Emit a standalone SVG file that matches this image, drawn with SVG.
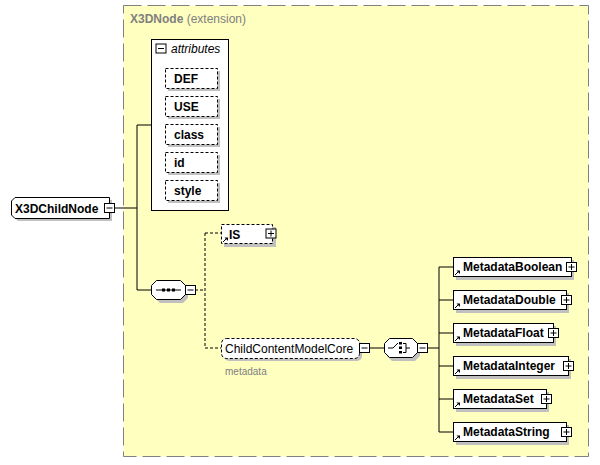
<svg xmlns="http://www.w3.org/2000/svg" width="600" height="465" viewBox="0 0 600 465">
<defs>
<style>
.bx{fill:#fff;stroke:#000;stroke-width:1}
.dsh{stroke-dasharray:3,2}
.sh{fill:#c0c0c0;stroke:none}
.lb{font-family:"Liberation Sans",Arial,sans-serif;font-size:12px;font-weight:bold;fill:#000}
.ln{stroke:#000;stroke-width:1;fill:none}
.ic{stroke:#000;stroke-width:1;fill:none}
</style>
<g id="minus"><rect x="-5" y="-4.5" width="10" height="9" class="bx"/><path d="M-3,0H3" class="ic"/></g>
<g id="plus"><rect x="-5" y="-4.5" width="10" height="9" class="bx"/><path d="M-3,0H3M0,-3V3" class="ic"/></g>
<g id="ref"><path d="M0,5L4,1" class="ic"/><path d="M1.5,0.5H5V4Z" fill="#000"/></g>
</defs>
<g id="extension">
<rect x="123.5" y="5.5" width="465" height="451" fill="#ffffc0" stroke="#808080" stroke-dasharray="18,6"/>
<text x="130" y="23" class="lb" style="fill:#808080">X3DNode<tspan font-weight="normal"> (extension)</tspan></text>
</g>
<g id="connectors">
<path class="ln" d="M114,208H137M137,125V290M137,125H151M137,290H151"/>
<path class="ln dsh" d="M195,290H205M205,233V348M205,233H221M205,348H221"/>
<path class="ln" d="M370,348H384M428,348H439M439,267V432M439,267H453M439,300H453M439,333H453M439,366H453M439,399H453M439,432H453"/>
</g>
<g id="X3DChildNode">
<polygon points="18,200 112,200 112,221 18,221 14,217 14,204" class="sh"/>
<polygon points="15,197.5 109.5,197.5 109.5,218.5 15,218.5 11.5,215 11.5,201" class="bx"/>
<text x="15" y="213" class="lb">X3DChildNode</text>
<use href="#minus" x="109.5" y="208"/>
</g>
<g id="attributes">
<rect x="151.5" y="39.5" width="77" height="171" class="bx"/>
<use href="#minus" x="161" y="48.5"/>
<text x="171" y="53" class="lb" font-style="italic" style="font-weight:normal">attributes</text>
</g>
<g id="attr-DEF"><rect x="168" y="71" width="52" height="20" class="sh"/><rect x="165.5" y="68.5" width="52" height="20" class="bx dsh"/><text x="174" y="83" class="lb">DEF</text></g>
<g id="attr-USE"><rect x="168" y="99" width="52" height="20" class="sh"/><rect x="165.5" y="96.5" width="52" height="20" class="bx dsh"/><text x="174" y="111" class="lb">USE</text></g>
<g id="attr-class"><rect x="168" y="127" width="52" height="20" class="sh"/><rect x="165.5" y="124.5" width="52" height="20" class="bx dsh"/><text x="174" y="139" class="lb">class</text></g>
<g id="attr-id"><rect x="168" y="155" width="52" height="20" class="sh"/><rect x="165.5" y="152.5" width="52" height="20" class="bx dsh"/><text x="174" y="167" class="lb">id</text></g>
<g id="attr-style"><rect x="168" y="183" width="52" height="20" class="sh"/><rect x="165.5" y="180.5" width="52" height="20" class="bx dsh"/><text x="174" y="195" class="lb">style</text></g>
<g id="sequence">
<polygon points="160,283 183,283 188,288 188,298 183,303 160,303 155,298 155,288" class="sh"/>
<polygon points="156.5,280.5 180.5,280.5 185.5,285.5 185.5,294.5 180.5,299.5 156.5,299.5 151.5,294.5 151.5,285.5" class="bx"/>
<path d="M156,290H181" class="ic"/>
<rect x="162" y="288.5" width="3" height="3" fill="#000"/>
<rect x="167" y="288.5" width="3" height="3" fill="#000"/>
<rect x="172" y="288.5" width="3" height="3" fill="#000"/>
<use href="#minus" x="190.5" y="290"/>
</g>
<g id="IS">
<rect x="224" y="227" width="52" height="20" class="sh"/>
<rect x="221.5" y="224.5" width="51" height="19" class="bx dsh"/>
<use href="#ref" x="223" y="237"/>
<text x="229" y="239" class="lb">IS</text>
<use href="#plus" x="271" y="233.5"/>
</g>
<g id="ChildContentModelCore">
<rect x="224" y="341" width="138" height="20" rx="5" class="sh"/>
<rect x="221.5" y="338.5" width="138" height="20" rx="5" class="bx dsh"/>
<text x="225" y="353" class="lb" style="font-weight:normal">ChildContentModelCore</text>
<use href="#minus" x="364.5" y="348"/>
<text x="225" y="375" font-family="Liberation Sans, Arial, sans-serif" font-size="10" fill="#808080">metadata</text>
</g>
<g id="choice">
<polygon points="392,341 415,341 420,346 420,356 415,361 392,361 387,356 387,346" class="sh"/>
<polygon points="389.5,338.5 412.5,338.5 417.5,343.5 417.5,352.5 412.5,357.5 389.5,357.5 384.5,352.5 384.5,343.5" class="bx"/>
<path d="M388,348H393L398,343" class="ic"/>
<rect x="399" y="342" width="3" height="2.5" fill="#000"/>
<rect x="399" y="346.5" width="3" height="2.5" fill="#000"/>
<rect x="399" y="351" width="3" height="2.5" fill="#000"/>
<path d="M403,343.5H406V352.5H403M406,348H410" class="ic"/>
<use href="#minus" x="422.5" y="348"/>
</g>
<g id="MetadataBoolean">
<rect x="456" y="260" width="118" height="20" class="sh"/>
<rect x="453.5" y="257.5" width="118" height="19" class="bx"/>
<use href="#ref" x="455" y="270"/>
<text x="463" y="271" class="lb">MetadataBoolean</text>
<use href="#plus" x="571.5" y="267"/>
</g>
<g id="MetadataDouble">
<rect x="456" y="293" width="113" height="20" class="sh"/>
<rect x="453.5" y="290.5" width="113" height="19" class="bx"/>
<use href="#ref" x="455" y="303"/>
<text x="463" y="304" class="lb">MetadataDouble</text>
<use href="#plus" x="566.5" y="300"/>
</g>
<g id="MetadataFloat">
<rect x="456" y="326" width="100" height="20" class="sh"/>
<rect x="453.5" y="323.5" width="100" height="19" class="bx"/>
<use href="#ref" x="455" y="336"/>
<text x="463" y="337" class="lb">MetadataFloat</text>
<use href="#plus" x="553.5" y="333"/>
</g>
<g id="MetadataInteger">
<rect x="456" y="359" width="115" height="20" class="sh"/>
<rect x="453.5" y="356.5" width="115" height="19" class="bx"/>
<use href="#ref" x="455" y="369"/>
<text x="463" y="370" class="lb">MetadataInteger</text>
<use href="#plus" x="568.5" y="366"/>
</g>
<g id="MetadataSet">
<rect x="456" y="392" width="93" height="20" class="sh"/>
<rect x="453.5" y="389.5" width="93" height="19" class="bx"/>
<use href="#ref" x="455" y="402"/>
<text x="463" y="403" class="lb">MetadataSet</text>
<use href="#plus" x="546.5" y="399"/>
</g>
<g id="MetadataString">
<rect x="456" y="425" width="113" height="20" class="sh"/>
<rect x="453.5" y="422.5" width="113" height="19" class="bx"/>
<use href="#ref" x="455" y="435"/>
<text x="463" y="436" class="lb">MetadataString</text>
<use href="#plus" x="566.5" y="432"/>
</g>
</svg>
